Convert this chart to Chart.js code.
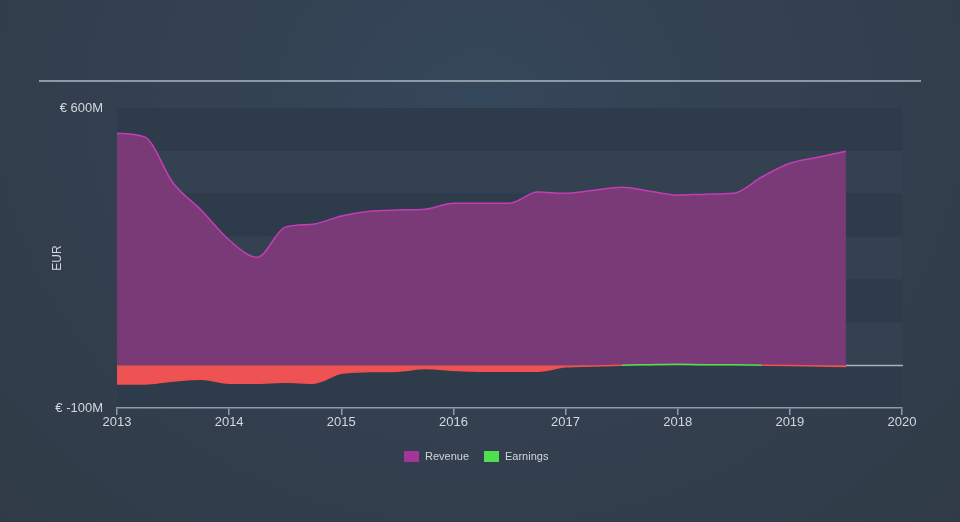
<!DOCTYPE html>
<html>
<head>
<meta charset="utf-8">
<script src="https://cdn.jsdelivr.net/npm/chart.js@4/dist/chart.umd.min.js"></script>
<style>
  html, body { margin: 0; padding: 0; }
  body {
    width: 960px; height: 522px; overflow: hidden; position: relative;
    background: radial-gradient(ellipse at 50% 20%, #35475a 0%, #333f4e 60%, #303b47 100%);
    font-family: "Liberation Sans", Arial, sans-serif;
  }
  #wrap { position: absolute; left: 0; top: 0; width: 960px; height: 522px; }
  .topline { position: absolute; left: 39px; top: 80px; width: 882px; height: 2px; background: #8e99a6; }
  .legend { position: absolute; top: 450px; left: 0; width: 960px; font-size: 11px; color: #d0d6dd; }
  .legend span { position: absolute; top: 0; line-height: 13px; }
  .sw { display: inline-block; width: 15px; height: 11px; vertical-align: -2px; margin-right: 6px; }
</style>
</head>
<body>
<div class="topline"></div>
<div id="wrap"><canvas id="chart" width="960" height="522"></canvas></div>
<div class="legend">
  <span style="left:404px"><i class="sw" style="background:#a6359a"></i>Revenue</span>
  <span style="left:484px"><i class="sw" style="background:#4fe04f"></i>Earnings</span>
</div>
<script>
var dates = [2013.0, 2013.25, 2013.5, 2013.75, 2014.0, 2014.25, 2014.5, 2014.75,
  2015.0, 2015.25, 2015.5, 2015.75, 2016.0, 2016.25, 2016.5, 2016.75,
  2017.0, 2017.25, 2017.5, 2017.75, 2018.0, 2018.25, 2018.5, 2018.75,
  2019.0, 2019.25, 2019.5];
var revenue = [541, 532, 425, 362, 292, 252, 322, 329,
  348, 359, 362, 364, 378, 378, 378, 404,
  401, 408, 415, 406, 397, 399, 401, 439,
  471, 485, 499];
var earnings = [-44, -44, -37, -33, -42, -42, -40, -42,
  -19, -15, -14, -8, -12, -14, -14, -14,
  -4, -2, 0, 1, 2, 1, 1, 0,
  -1, -2, -3];
var yearTicks = [2013, 2014, 2015, 2016, 2017, 2018, 2019, 2020];
var yLabels = { '600': '€ 600M', '-100': '€ -100M' };

function pts(vals) {
  return vals.map(function (v, i) { return { x: dates[i], y: v }; });
}

// alternating horizontal bands behind the plot
var bands = {
  id: 'bands',
  beforeDraw: function (chart) {
    var ctx = chart.ctx, a = chart.chartArea, y = chart.scales.y;
    ctx.save();
    for (var v = 600, k = 0; v > -100; v -= 100, k++) {
      var t = y.getPixelForValue(v), b = y.getPixelForValue(v - 100);
      ctx.fillStyle = (v <= 0) ? '#2e3b4a' : (k % 2 === 0 ? '#2e3b4a' : '#334150');
      ctx.fillRect(a.left, t, a.right - a.left, b - t);
    }
    ctx.restore();
  }
};

var zeroLine = {
  id: 'zeroLine',
  afterDatasetsDraw: function (chart) {
    var ctx = chart.ctx, a = chart.chartArea;
    var y0 = Math.round(chart.scales.y.getPixelForValue(0)) + 0.5;
    ctx.save();
    ctx.strokeStyle = '#a9b2bc';
    ctx.lineWidth = 1.5;
    ctx.beginPath();
    ctx.moveTo(chart.scales.x.getPixelForValue(2019.5), y0);
    ctx.lineTo(a.right + 1, y0);
    ctx.stroke();
    ctx.restore();
  }
};

new Chart(document.getElementById('chart'), {
  type: 'line',
  data: {
    datasets: [
      {
        label: 'Earnings',
        data: pts(earnings),
        borderWidth: 1.5,
        borderColor: '#f04f4f',
        segment: {
          borderColor: function (c) {
            return (c.p0.parsed.y + c.p1.parsed.y) / 2 > 0 ? '#4fe04f' : '#f25050';
          }
        },
        fill: { target: 'origin', above: '#4fd84f', below: '#ef5252' },
        cubicInterpolationMode: 'monotone',
        pointRadius: 0,
        order: 1
      },
      {
        label: 'Revenue',
        data: pts(revenue),
        borderWidth: 1.5,
        borderColor: '#c23eb4',
        backgroundColor: '#7a3a78',
        fill: 'origin',
        cubicInterpolationMode: 'monotone',
        pointRadius: 0,
        order: 2
      }
    ]
  },
  options: {
    responsive: false,
    animation: false,
    events: [],
    layout: { padding: { left: 0, right: 58, top: 108, bottom: 84 } },
    plugins: { legend: { display: false }, tooltip: { enabled: false } },
    scales: {
      x: {
        type: 'linear',
        min: 2013,
        max: 2020,
        afterBuildTicks: function (s) { s.ticks = yearTicks.map(function (v) { return { value: v }; }); },
        afterFit: function (s) { s.height = 30; },
        ticks: {
          color: '#d2d8de',
          font: { size: 13, family: '"Liberation Sans", Arial, sans-serif' },
          padding: 0,
          maxRotation: 0,
          callback: function (v) { return String(v); }
        },
        grid: { drawOnChartArea: false, color: '#8c9cad', tickLength: 7, lineWidth: 1.5 },
        border: { color: '#8c9cad', width: 1.5 }
      },
      y: {
        min: -100,
        max: 600,
        afterBuildTicks: function (s) { s.ticks = [{ value: -100 }, { value: 600 }]; },
        afterFit: function (s) { s.width = 117; },
        ticks: {
          color: '#d2d8de',
          font: { size: 13, family: '"Liberation Sans", Arial, sans-serif' },
          padding: 6,
          callback: function (v) { return yLabels[String(v)] || ''; }
        },
        grid: { display: false },
        border: { display: false },
        title: {
          display: true,
          text: 'EUR',
          color: '#d2d8de',
          font: { size: 12, family: '"Liberation Sans", Arial, sans-serif' },
          padding: { top: 50, bottom: 0 }
        }
      }
    }
  },
  plugins: [bands, zeroLine]
});
</script>
</body>
</html>
